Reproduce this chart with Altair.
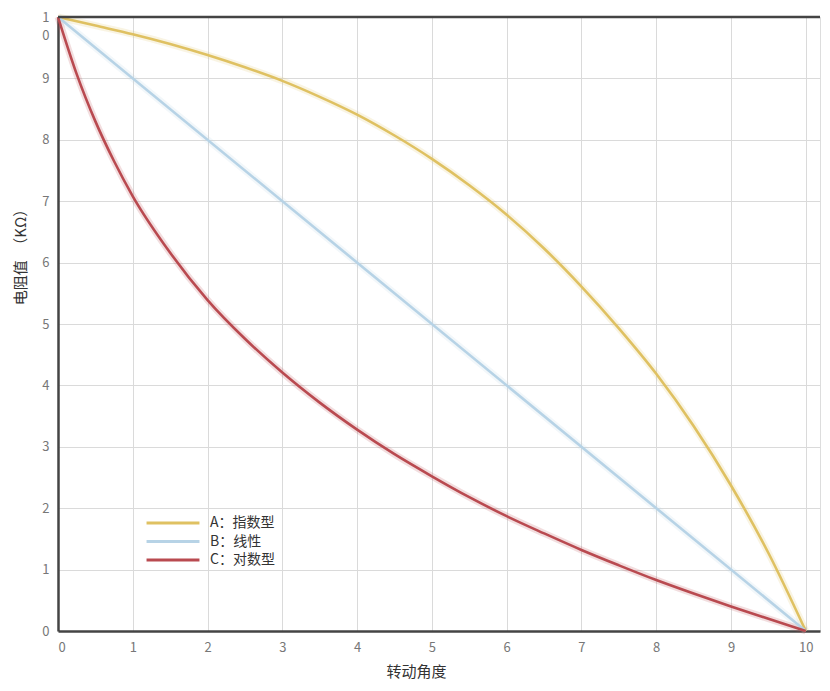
import altair as alt
import pandas as pd

series_names = ["A：指数型", "B：线性", "C：对数型"]
series_colors = ["#dfc162", "#b7d3e6", "#b94a50"]

exp_x = [0, 0.5, 1, 1.5, 2, 2.5, 3, 3.5, 4, 4.5, 5, 5.5, 6, 6.5, 7, 7.5, 8, 8.5, 9, 9.5, 10]
exp_y = [10, 9.86, 9.72, 9.56, 9.38, 9.18, 8.96, 8.70, 8.41, 8.07, 7.69, 7.26, 6.78, 6.23, 5.61, 4.93, 4.19, 3.34, 2.37, 1.27, 0]

lin_x = [0, 10]
lin_y = [10, 0]

log_x = [0, 0.25, 0.5, 0.75, 1, 1.5, 2, 2.5, 3, 3.5, 4, 4.5, 5, 5.5, 6, 6.5, 7, 7.5, 8, 8.5, 9, 9.5, 10]
log_y = [10, 9.07, 8.30, 7.65, 7.08, 6.16, 5.39, 4.76, 4.21, 3.72, 3.28, 2.88, 2.52, 2.18, 1.87, 1.59, 1.32, 1.07, 0.83, 0.61, 0.40, 0.20, 0]

x_ticks = list(range(0, 11))
y_ticks = list(range(0, 11))

rows = []
for name, xs, ys in [(series_names[0], exp_x, exp_y), (series_names[1], lin_x, lin_y), (series_names[2], log_x, log_y)]:
    for i, (a, b) in enumerate(zip(xs, ys)):
        rows.append({"series": name, "angle": a, "r": b, "order": i})
df = pd.DataFrame(rows)

W, H = 762, 614
FONT = "Noto Sans CJK SC"

xscale = alt.Scale(domain=[0, 10.19], nice=False)
yscale = alt.Scale(domain=[0, 10], nice=False)

color = alt.Color(
    "series:N",
    scale=alt.Scale(domain=series_names, range=series_colors),
    legend=alt.Legend(
        title=None,
        orient="none",
        legendX=108,
        legendY=499,
        symbolType="M-5,0L5,0",
        symbolSize=112,
        symbolStrokeWidth=3,
        symbolOpacity=1,
        labelOffset=30,
        labelFont=FONT,
        labelFontSize=14,
        labelColor="#333333",
        rowPadding=4.5,
    ),
)

base = alt.Chart(df)

x_enc = alt.X(
    "angle:Q",
    scale=xscale,
    axis=alt.Axis(
        values=x_ticks,
        format="d",
        title="转动角度",
        titleFont=FONT,
        titleFontSize=15,
        titleFontWeight="normal",
        titleColor="#333333",
        titlePadding=10,
        titleX=358,
        labelFont=FONT,
        labelFontSize=13,
        labelColor="#777777",
        labelPadding=10,
        ticks=False,
        domainColor="#444444",
        domainWidth=2.5,
        gridColor="#dadada",
        gridWidth=1,
    ),
)
y_enc = alt.Y(
    "r:Q",
    scale=yscale,
    axis=alt.Axis(
        values=y_ticks,
        format="d",
        title="电阻值　（KΩ）",
        titleFont=FONT,
        titleFontSize=15,
        titleFontWeight="normal",
        titleColor="#333333",
        titleX=-30,
        titleY=236,
        labelFont=FONT,
        labelFontSize=13,
        labelColor="#777777",
        labelPadding=9,
        labelExpr="datum.value == 10 ? ['1', '0'] : datum.label",
        labelLineHeight=18,
        labelBaseline="middle",
        ticks=False,
        domainColor="#444444",
        domainWidth=2.5,
        gridColor="#dadada",
        gridWidth=1,
    ),
)

glow = base.mark_line(strokeWidth=7, opacity=0.18, interpolate="monotone").encode(
    x=alt.X("angle:Q", scale=xscale),
    y=alt.Y("r:Q", scale=yscale),
    color=alt.Color("series:N", scale=alt.Scale(domain=series_names, range=series_colors), legend=None),
    order="order:Q",
)

lines = base.mark_line(strokeWidth=2.6, interpolate="monotone").encode(
    x=x_enc,
    y=y_enc,
    color=color,
    order="order:Q",
)

frame_df = pd.DataFrame({"x0": [0], "x1": [10.19], "ytop": [10]})
top_rule = alt.Chart(frame_df).mark_rule(color="#444444", strokeWidth=2.5).encode(
    x=alt.X("x0:Q", scale=xscale),
    x2="x1:Q",
    y=alt.Y("ytop:Q", scale=yscale),
)

chart = alt.layer(glow, lines, top_rule).resolve_scale(color="independent").properties(
    width=W,
    height=H,
    autosize=alt.AutoSizeParams(type="none"),
    padding={"left": 50, "top": 9, "right": 2, "bottom": 60},
).configure_view(stroke=None).configure(background="white")

chart.save("out.html", embed_options={"renderer": "svg", "actions": False})
